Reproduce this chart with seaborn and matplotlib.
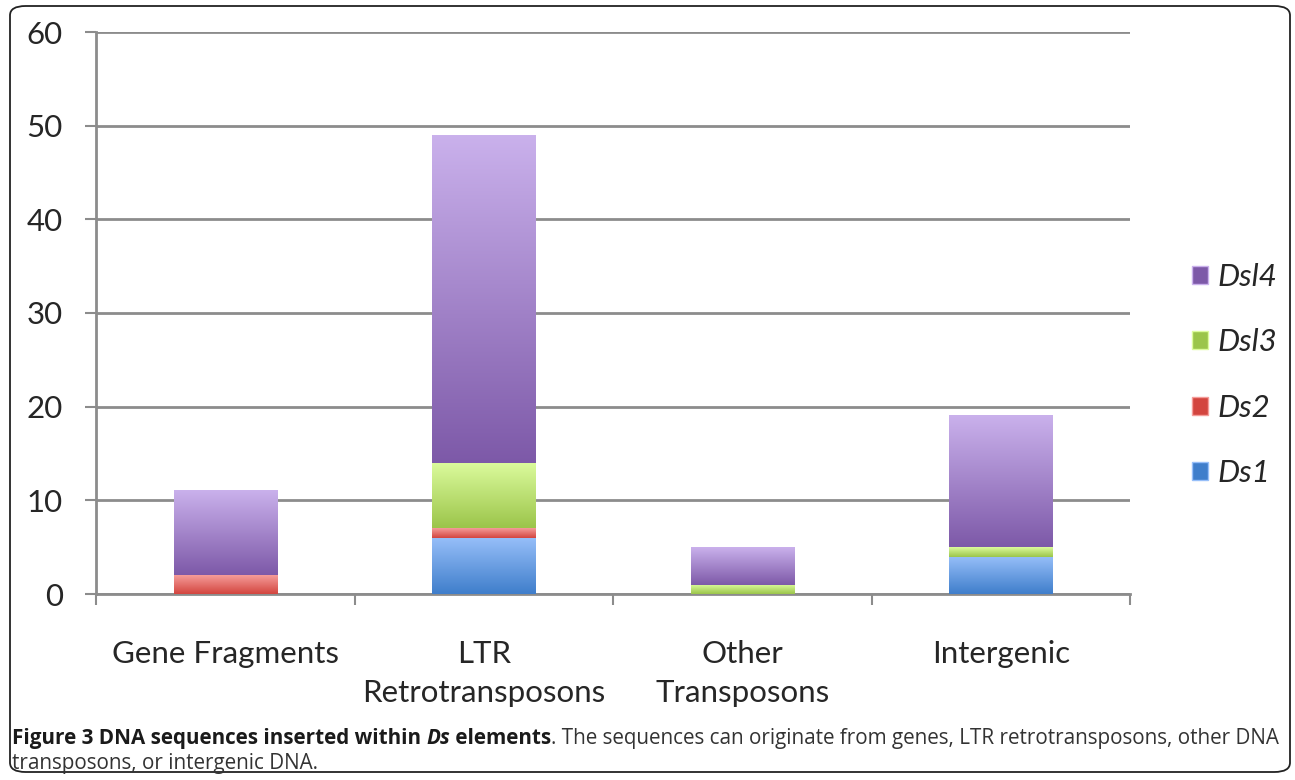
import numpy as np
import pandas as pd
import matplotlib
matplotlib.use("Agg")
import matplotlib.pyplot as plt
import seaborn as sns
from matplotlib.colors import LinearSegmentedColormap
from matplotlib.patches import Patch, FancyBboxPatch

# data
categories = ["Gene Fragments", "LTR\nRetrotransposons", "Other\nTransposons", "Intergenic"]
ds1 = [0, 6, 0, 4]
ds2 = [2, 1, 0, 0]
dsl3 = [0, 7, 1, 1]
dsl4 = [9, 35, 4, 14]
series_names = ["Ds1", "Ds2", "Dsl3", "Dsl4"]

# (top colour, bottom colour) for the gradient look of the original
shades = {
    "Ds1": ("#97bff9", "#3f7ecb"),
    "Ds2": ("#f59c99", "#d3453f"),
    "Dsl3": ("#dcfb9d", "#9bc54a"),
    "Dsl4": ("#cab1ec", "#7d59a8"),
}

sns.set_style("white")
plt.rcParams["font.family"] = ["Lato", "DejaVu Sans"]

df = pd.DataFrame({"category": categories, "Ds1": ds1, "Ds2": ds2, "Dsl3": dsl3, "Dsl4": dsl4})

fig = plt.figure(figsize=(12.95, 7.8), dpi=100)
ax = fig.add_axes([96 / 1295, 1 - 594 / 780, (1130 - 96) / 1295, (594 - 32) / 780])

bottom = np.zeros(len(categories))
bar_groups = []
for name in series_names:
    n_before = len(ax.patches)
    sns.barplot(data=df, x="category", y=name, color=shades[name][1], width=0.4,
                bottom=bottom, ax=ax, linewidth=0, saturation=1, zorder=3)
    bar_groups.append((name, ax.patches[n_before:]))
    bottom = bottom + df[name].values

# replace flat fills with vertical gradients
for name, patches in bar_groups:
    cmap = LinearSegmentedColormap.from_list(name, [shades[name][1], shades[name][0]])
    grad = np.linspace(0, 1, 256).reshape(-1, 1)
    for p in patches:
        x, y, w, h = p.get_x(), p.get_y(), p.get_width(), p.get_height()
        if h <= 0:
            continue
        ax.imshow(grad, extent=[x, x + w, y, y + h], origin="lower", aspect="auto",
                  cmap=cmap, zorder=3, interpolation="bilinear")
        p.set_visible(False)

ax.set_xlim(-0.5, 3.5)
ax.set_ylim(0, 60)
ax.set_yticks(range(0, 61, 10))
ax.grid(axis="y", color="#8c8c8c", linewidth=2, zorder=0)
ax.set_axisbelow(True)
for side in ["top", "right"]:
    ax.spines[side].set_visible(False)
for side in ["left", "bottom"]:
    ax.spines[side].set_color("#8c8c8c")
    ax.spines[side].set_linewidth(2)

ax.set_xlabel("")
ax.set_ylabel("")
ax.tick_params(axis="y", length=8, width=1.5, color="#8c8c8c", pad=16, labelsize=22.5, left=True)
ax.tick_params(axis="x", which="major", length=0, pad=33, labelsize=22.5)
ax.set_xticks(range(len(categories)))
ax.set_xticklabels(categories, linespacing=1.5, va="top")
ax.set_xticks([-0.5, 0.5, 1.5, 2.5, 3.5], minor=True)
ax.tick_params(axis="x", which="minor", length=8, width=1.5, color="#8c8c8c", bottom=True)

handles = [Patch(facecolor=shades[n][1], edgecolor=shades[n][0]) for n in series_names[::-1]]
leg = fig.legend(handles, series_names[::-1], loc="center left", bbox_to_anchor=(1192 / 1295, 1 - 375 / 780),
                 frameon=False, prop={"style": "italic", "size": 22.5}, handlelength=0.5, handleheight=0.5,
                 handletextpad=0.3, labelspacing=1.2, borderpad=0, borderaxespad=0)

# rounded frame around the whole figure
fig.patches.append(FancyBboxPatch((10 / 1295, 8 / 780), 1280 / 1295, 766 / 780,
                                  boxstyle="round,pad=0,rounding_size=0.012",
                                  transform=fig.transFigure, fill=False, edgecolor="#222222", linewidth=1.3))

# caption with mixed styles
cap_font = ["Open Sans", "DejaVu Sans"]
cap_size = 14.85
pieces = [("Figure 3 DNA sequences inserted within ", "bold", "normal", "#1a1a1a"),
          ("Ds", "bold", "italic", "#1a1a1a"),
          (" elements", "bold", "normal", "#1a1a1a"),
          (". The sequences can originate from genes, LTR retrotransposons, other DNA", "normal", "normal", "#333333")]
renderer = fig.canvas.get_renderer()
xpos = 12 / 1295
for txt, weight, style, col in pieces:
    t = fig.text(xpos, 1 - 744 / 780, txt, fontsize=cap_size, fontweight=weight, fontstyle=style,
                 color=col, family=cap_font, va="baseline", ha="left")
    bb = t.get_window_extent(renderer)
    xpos = bb.x1 / fig.bbox.width
fig.text(12 / 1295, 1 - 769 / 780, "transposons, or intergenic DNA.", fontsize=cap_size,
         color="#333333", family=cap_font, va="baseline", ha="left")

fig.savefig("out.png", dpi=100)
